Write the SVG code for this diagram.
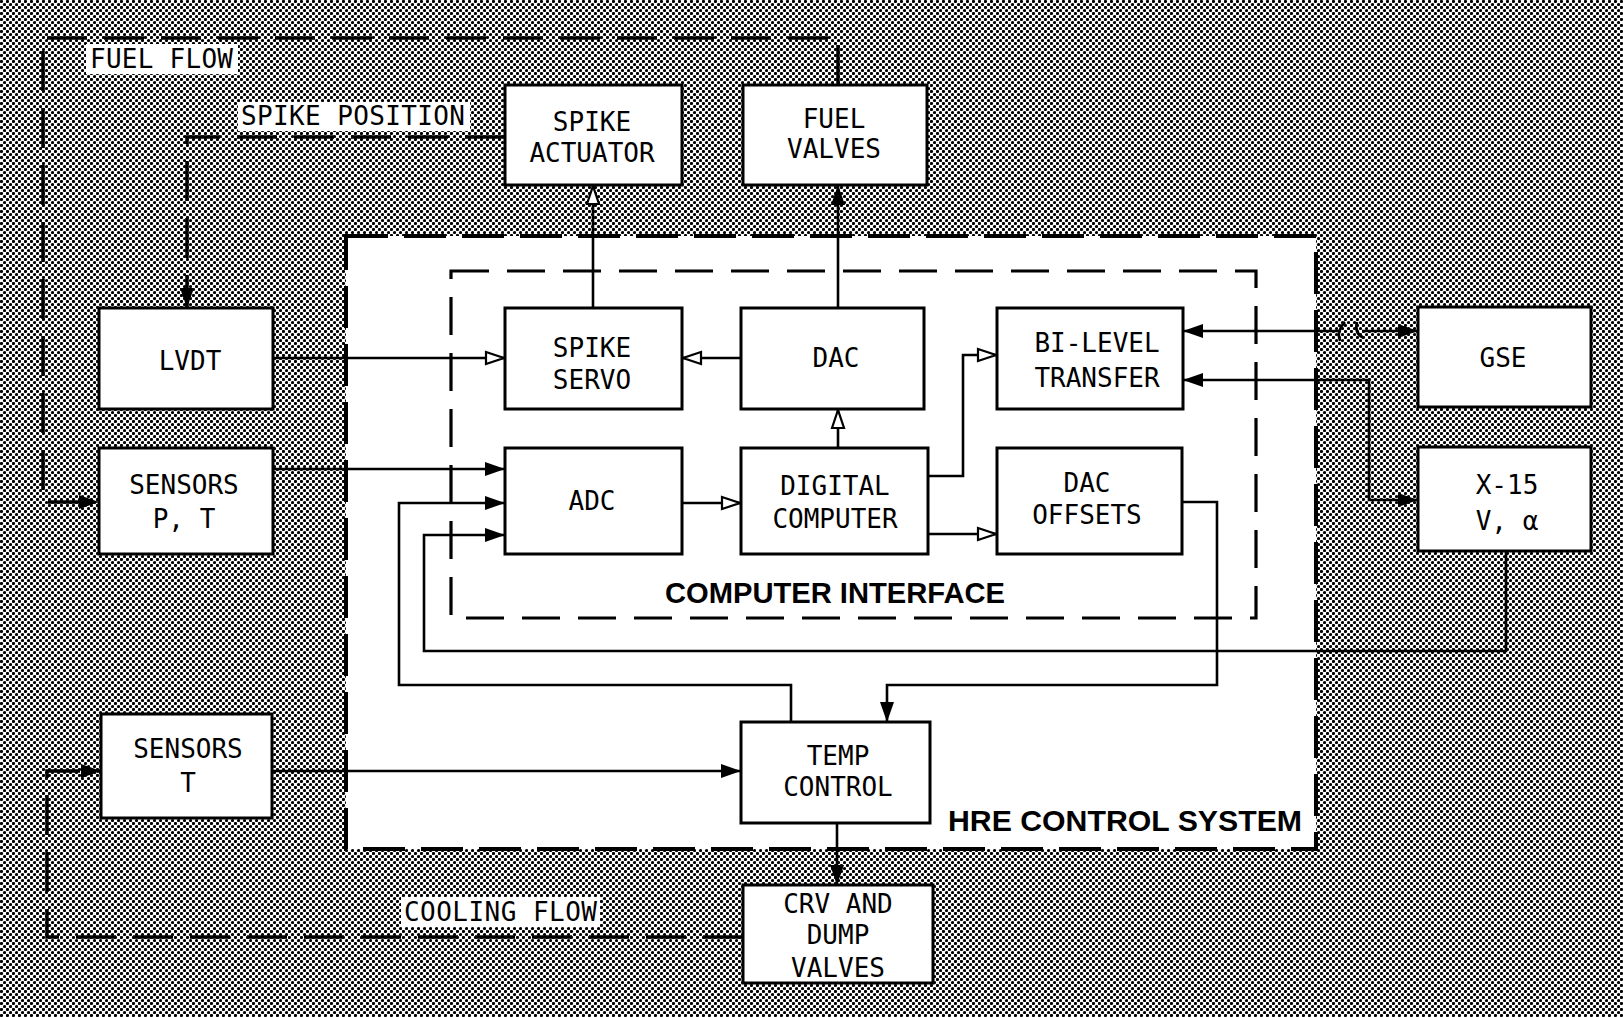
<svg xmlns="http://www.w3.org/2000/svg" width="1623" height="1017" viewBox="0 0 1623 1017">
<defs>
<pattern id="dots" width="6" height="6" patternUnits="userSpaceOnUse">
<rect width="6" height="6" fill="#ffffff"/>
<circle cx="1.5" cy="1.5" r="1.6" fill="#000"/>
<circle cx="4.5" cy="4.5" r="1.6" fill="#000"/>
</pattern>
<marker id="af" markerUnits="userSpaceOnUse" markerWidth="22" markerHeight="16" refX="21" refY="8" orient="auto-start-reverse">
<path d="M1,1 L21,8 L1,15 z" fill="#000"/>
</marker>
<marker id="ah" markerUnits="userSpaceOnUse" markerWidth="22" markerHeight="16" refX="21" refY="8" orient="auto-start-reverse">
<path d="M2,2 L20,8 L2,14 z" fill="#fff" stroke="#000" stroke-width="2.2"/>
</marker>
<style>
.box{fill:#fff;stroke:#000;stroke-width:3}
.t{font-family:"DejaVu Sans Mono","Liberation Mono",monospace;font-size:26px;fill:#000;text-anchor:middle}
.lbl{font-family:"DejaVu Sans Mono","Liberation Mono",monospace;font-size:26px;fill:#000}
.big{font-family:"Liberation Sans",Arial,sans-serif;font-weight:bold;font-size:30px;fill:#000}
.c{fill:none;stroke:#000;stroke-width:2.6}
.dash{fill:none;stroke:#000;stroke-width:3.5;stroke-dasharray:40 17}
.fa{marker-end:url(#af)}
.ha{marker-end:url(#ah)}
</style>
</defs>
<rect width="1623" height="1017" fill="url(#dots)"/>

<g id="hre-control-system">
<rect x="346" y="236" width="970" height="613" fill="#fff" stroke="#000" stroke-width="4" stroke-dasharray="42 16"/>
<text class="big" x="948" y="831" textLength="354" lengthAdjust="spacingAndGlyphs">HRE CONTROL SYSTEM</text>
</g>
<g id="computer-interface">
<rect x="451" y="271" width="805" height="347" fill="none" stroke="#000" stroke-width="3.2" stroke-dasharray="38 18"/>
<text class="big" x="665" y="603" textLength="340" lengthAdjust="spacingAndGlyphs">COMPUTER INTERFACE</text>
</g>

<g id="labels">
<rect x="86" y="44" width="152" height="30" fill="#fff"/>
<text class="lbl" x="90" y="68" textLength="143">FUEL FLOW</text>
<rect x="238" y="102" width="232" height="29" fill="#fff"/>
<text class="lbl" x="241" y="125" textLength="224">SPIKE POSITION</text>
<rect x="401" y="897" width="199" height="30" fill="#fff"/>
<text class="lbl" x="404" y="921" textLength="193">COOLING FLOW</text>
</g>

<g id="connectors">
<path class="dash fa" d="M838,85 V38 H43 V502 H99"/>
<path class="dash fa" d="M505,137 H187 V308"/>
<path class="dash fa" d="M743,937 H47 V771 H101"/>
<path class="c ha" d="M273,358 H505"/>
<path class="c ha" d="M741,358 H682"/>
<path class="c ha" d="M593,308 V185"/>
<path class="c fa" d="M838,308 V185"/>
<path class="c ha" d="M838,448 V409"/>
<path class="c ha" d="M928,476 H963 V355 H997"/>
<path class="c ha" d="M928,534 H997"/>
<path class="c ha" d="M682,503 H741"/>
<path class="c fa" d="M273,469 H505"/>
<path class="c fa" d="M791,722 V685 H399 V503 H505"/>
<path class="c fa" d="M1506,551 V651 H424 V535 H505"/>
<path class="c fa" d="M1182,502 H1217 V685 H887 V722"/>
<path class="c fa" d="M1340,331 H1183"/>
<path class="c fa" d="M1362,331 H1418"/>
<path class="c" d="M1345,322 Q1336,331 1340,341"/>
<path class="c" d="M1357,322 Q1354,334 1364,338"/>
<path class="c" d="M1183,380 H1369 V500 H1418" marker-start="url(#af)" marker-end="url(#af)"/>
<path class="c fa" d="M272,771 H741"/>
<path class="c fa" d="M837,823 V885"/>
</g>

<g id="spike-actuator"><rect class="box" x="505" y="85" width="177" height="100"/><text class="t" x="592" y="131">SPIKE</text><text class="t" x="592" y="162">ACTUATOR</text></g>
<g id="fuel-valves"><rect class="box" x="743" y="85" width="184" height="100"/><text class="t" x="834" y="128">FUEL</text><text class="t" x="834" y="158">VALVES</text></g>
<g id="lvdt"><rect class="box" x="99" y="308" width="174" height="101"/><text class="t" x="190" y="370">LVDT</text></g>
<g id="sensors-pt"><rect class="box" x="99" y="448" width="174" height="106"/><text class="t" x="184" y="494">SENSORS</text><text class="t" x="184" y="528">P, T</text></g>
<g id="spike-servo"><rect class="box" x="505" y="308" width="177" height="101"/><text class="t" x="592" y="357">SPIKE</text><text class="t" x="592" y="389">SERVO</text></g>
<g id="dac"><rect class="box" x="741" y="308" width="183" height="101"/><text class="t" x="836" y="367">DAC</text></g>
<g id="bi-level-transfer"><rect class="box" x="997" y="308" width="186" height="101"/><text class="t" x="1097" y="352">BI-LEVEL</text><text class="t" x="1097" y="387">TRANSFER</text></g>
<g id="gse"><rect class="box" x="1418" y="307" width="173" height="100"/><text class="t" x="1503" y="367">GSE</text></g>
<g id="adc"><rect class="box" x="505" y="448" width="177" height="106"/><text class="t" x="592" y="510">ADC</text></g>
<g id="digital-computer"><rect class="box" x="741" y="448" width="187" height="106"/><text class="t" x="835" y="495">DIGITAL</text><text class="t" x="835" y="528">COMPUTER</text></g>
<g id="dac-offsets"><rect class="box" x="997" y="448" width="185" height="106"/><text class="t" x="1087" y="492">DAC</text><text class="t" x="1087" y="524">OFFSETS</text></g>
<g id="x15"><rect class="box" x="1418" y="447" width="173" height="104"/><text class="t" x="1507" y="494">X-15</text><text class="t" x="1507" y="530">V, α</text></g>
<g id="sensors-t"><rect class="box" x="101" y="714" width="171" height="104"/><text class="t" x="188" y="758">SENSORS</text><text class="t" x="188" y="792">T</text></g>
<g id="temp-control"><rect class="box" x="741" y="722" width="189" height="101"/><text class="t" x="838" y="765">TEMP</text><text class="t" x="838" y="796">CONTROL</text></g>
<g id="crv-dump-valves"><rect class="box" x="743" y="885" width="190" height="98"/><text class="t" x="838" y="913">CRV AND</text><text class="t" x="838" y="944">DUMP</text><text class="t" x="838" y="977">VALVES</text></g>
</svg>
